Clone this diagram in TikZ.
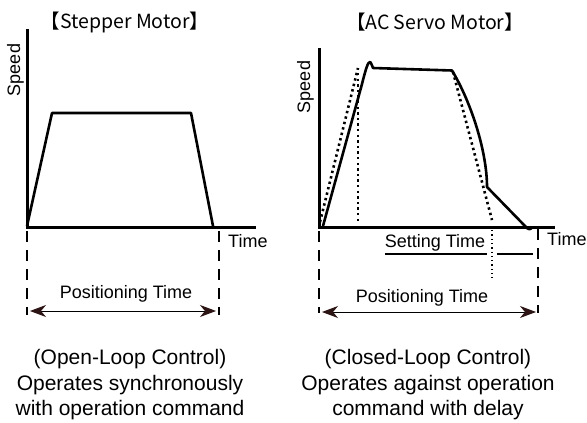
\documentclass[tikz,border=0pt]{standalone}
\usepackage{fontspec}
\setmainfont{Liberation Sans}
\newfontfamily\cjkfont{Noto Sans CJK JP}
\usetikzlibrary{arrows.meta}
\definecolor{arrowc}{RGB}{45,20,20}
\begin{document}
\begin{tikzpicture}[x=1pt,y=-1pt,
  axis/.style={line width=3pt, line join=miter},
  curve/.style={line width=2.6pt, line join=round},
  dots/.style={line width=2.6pt, dash pattern=on 2.4pt off 3.2pt},
  finedots/.style={line width=1.3pt, dash pattern=on 1.3pt off 3pt},
  guide/.style={line width=2.6pt, dash pattern=on 11pt off 8pt},
  lab/.style={font=\fontsize{18}{21}\selectfont, inner sep=0pt},
  note/.style={font=\fontsize{21}{25.5}\selectfont, inner sep=0pt, anchor=base},
  ttl/.style={font=\cjkfont\fontsize{19.5}{22}\selectfont, inner sep=0pt, anchor=base},
  span/.style={line width=1pt,
    {Stealth[length=16pt,width=12pt,inset=5pt,color=arrowc]}-{Stealth[length=16pt,width=12pt,inset=5pt,color=arrowc]}},
  uline/.style={line width=1.3pt}]
\useasboundingbox (0,0) rectangle (587,423);

% ---------- Stepper motor ----------
\node[ttl] (t1) at (125,28) {【Stepper Motor】};
\draw[axis] (27,29) -- (27,227) -- (256,227);
\draw[curve] (27,226) -- (52,113) -- (191,113) -- (213,226);
\node[lab, rotate=90, anchor=base] (s1) at (20,70) {Speed};
\node[lab, anchor=west] (tm1) at (228,241) {Time};
\coordinate (g1a) at (27,231);
\coordinate (g1b) at (27,315);
\coordinate (g1c) at (219,231);
\coordinate (g1d) at (219,315);
\draw[guide] (g1a) -- (g1b);
\draw[guide] (g1c) -- (g1d);
\coordinate (a1l) at (30,311);
\coordinate (a1r) at (216,311);
\draw[span] (a1l) -- (a1r);
\node[lab] (p1) at (126,294) {Positioning Time};
\node[note] (n1a) at (130,364) {(Open-Loop Control)};
\node[note] (n1b) at (130,390) {Operates synchronously};
\node[note] (n1c) at (130,415) {with operation command};

% ---------- AC servo motor ----------
\node[ttl] (t2) at (435,29) {【AC Servo Motor】};
\draw[axis] (319,48) -- (319,227) -- (555,227);
\draw[dots] (320,222) -- (358,68);
\draw[dots] (358,73) -- (358,224);
\draw[dots] (453,72) -- (492,220);
\draw[curve] (323,226) -- (362,84) .. controls (366,68) and (368,62) .. (370,62)
  .. controls (371,62) and (372,66) .. (373,68) -- (452,70.5)
  .. controls (470,100) and (487,150) .. (487,187) -- (525,226)
  .. controls (528,230) and (531,230) .. (532,227);
\node[lab, rotate=90, anchor=base] (s2) at (310,87) {Speed};
\node[lab, anchor=west] (tm2) at (547,239) {Time};
\node[lab, anchor=base] (st) at (435,247) {Setting Time};
\coordinate (u1) at (385,254);
\coordinate (u2) at (487,254);
\coordinate (u3) at (497,254);
\coordinate (u4) at (533,254);
\draw[uline] (u1) -- (u2);
\draw[uline] (u3) -- (u4);
\draw[finedots] (492,230) -- (492,278);
\coordinate (g2a) at (319,231);
\coordinate (g2b) at (319,313);
\coordinate (g2c) at (538,229);
\coordinate (g2d) at (538,313);
\draw[guide] (g2a) -- (g2b);
\draw[guide] (g2c) -- (g2d);
\coordinate (a2l) at (322,312);
\coordinate (a2r) at (536,312);
\draw[span] (a2l) -- (a2r);
\node[lab] (p2) at (422,298) {Positioning Time};
\node[note] (n2a) at (428,364) {(Closed-Loop Control)};
\node[note] (n2b) at (428,390) {Operates against operation};
\node[note] (n2c) at (428,415) {command with delay};
\end{tikzpicture}
\end{document}
